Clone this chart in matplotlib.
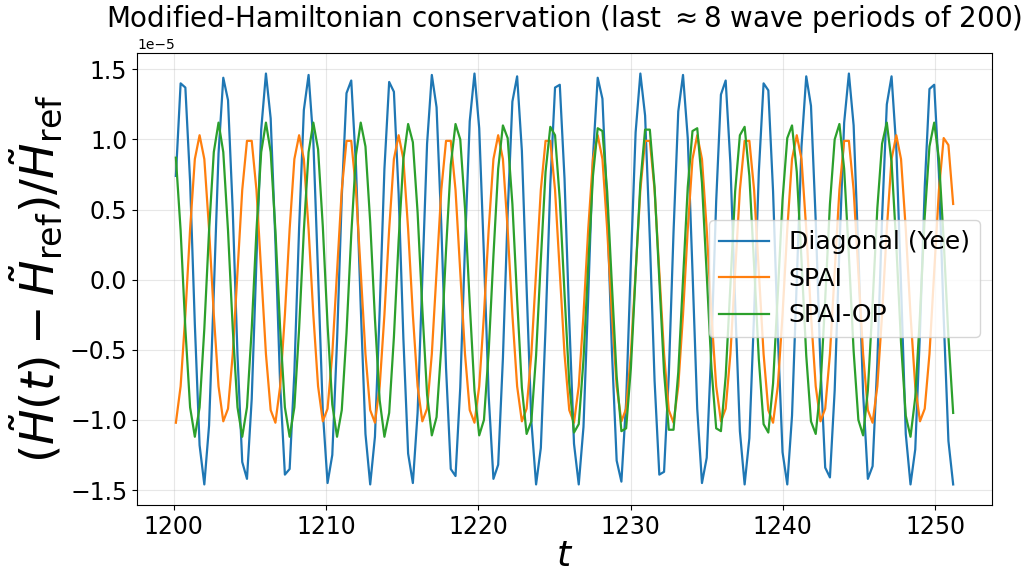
import numpy as np
import matplotlib
matplotlib.use("Agg")
import matplotlib.pyplot as plt

# sampled window at the end of the run
t_start, t_end, n_samples = 1200.14, 1251.19, 165

# relative modified-Hamiltonian drift, units of 1e-5
diag_yee = [
    0.74, 1.40, 1.37, 0.70, -0.32, -1.18, -1.46, -1.04, -0.09, 0.90,
    1.44, 1.28, 0.49, -0.54, -1.30, -1.42, -0.85, 0.14, 1.07, 1.47,
    1.15, 0.27, -0.75, -1.39, -1.35, -0.66, 0.37, 1.21, 1.46, 0.99,
    0.04, -0.94, -1.45, -1.25, -0.44, 0.59, 1.33, 1.42, 0.81, -0.19,
    -1.10, -1.46, -1.12, -0.22, 0.79, 1.41, 1.34, 0.61, -0.42, -1.24,
    -1.45, -0.95, 0.01, 0.97, 1.46, 1.23, 0.39, -0.63, -1.35, -1.40,
    -0.77, 0.24, 1.13, 1.47, 1.08, 0.17, -0.83, -1.42, -1.32, -0.56,
    0.47, 1.27, 1.45, 0.92, -0.06, -1.01, -1.46, -1.20, -0.34, 0.68,
    1.37, 1.39, 0.72, -0.29, -1.17, -1.46, -1.05, -0.12, 0.87, 1.44,
    1.29, 0.51, -0.51, -1.29, -1.44, -0.87, 0.12, 1.05, 1.47, 1.17,
    0.29, -0.72, -1.39, -1.37, -0.68, 0.34, 1.20, 1.46, 1.01, 0.06,
    -0.92, -1.45, -1.27, -0.47, 0.56, 1.32, 1.42, 0.83, -0.17, -1.08,
    -1.46, -1.13, -0.24, 0.77, 1.40, 1.35, 0.63, -0.39, -1.23, -1.46,
    -0.97, -0.01, 0.95, 1.45, 1.24, 0.42, -0.61, -1.34, -1.41, -0.79,
    0.22, 1.12, 1.47, 1.10, 0.19, -0.81, -1.42, -1.33, -0.59, 0.44,
    1.25, 1.45, 0.94, -0.04, -1.10, -1.46, -1.21, -0.37, 0.66, 1.36,
    1.39, 0.75, -0.27, -1.15, -1.46,
]

spai = [
    -1.02, -0.76, -0.25, 0.36, 0.86, 1.03, 0.86, 0.36, -0.25, -0.76,
    -1.01, -0.92, -0.53, 0.06, 0.64, 0.99, 0.99, 0.64, 0.06, -0.53, -0.93,
    -1.02, -0.76, -0.25, 0.36, 0.86, 1.03, 0.86, 0.36, -0.25, -0.76,
    -1.01, -0.92, -0.53, 0.06, 0.64, 0.99, 0.99, 0.64, 0.06, -0.53, -0.93,
    -1.02, -0.76, -0.25, 0.36, 0.86, 1.03, 0.86, 0.36, -0.25, -0.76,
    -1.01, -0.92, -0.53, 0.06, 0.64, 0.99, 0.99, 0.64, 0.06, -0.53, -0.93,
    -1.02, -0.76, -0.25, 0.36, 0.86, 1.03, 0.86, 0.36, -0.25, -0.76,
    -1.01, -0.92, -0.53, 0.06, 0.64, 0.99, 0.99, 0.64, 0.06, -0.53, -0.93,
    -1.02, -0.76, -0.25, 0.36, 0.86, 1.03, 0.86, 0.36, -0.25, -0.76,
    -1.01, -0.92, -0.53, 0.06, 0.64, 0.99, 0.99, 0.64, 0.06, -0.53, -0.93,
    -1.02, -0.76, -0.25, 0.36, 0.86, 1.03, 0.86, 0.36, -0.25, -0.76,
    -1.01, -0.92, -0.53, 0.06, 0.64, 0.99, 0.99, 0.64, 0.06, -0.53, -0.93,
    -1.02, -0.76, -0.25, 0.36, 0.86, 1.03, 0.86, 0.36, -0.25, -0.76,
    -1.01, -0.92, -0.53, 0.06, 0.64, 0.99, 0.99, 0.64, 0.06, -0.53, -0.93,
    -1.02, -0.76, -0.25, 0.36, 0.86, 1.03, 0.86, 0.36, -0.25, -0.76,
    -1.01, -0.92, -0.53, 0.06, 0.64, 1.01, 0.96, 0.54,
]

spai_op = [
    0.87, 0.35, -0.35, -0.91, -1.12, -0.91, -0.35, 0.35, 0.91,
    1.12, 0.91, 0.35, -0.35, -0.91, -1.12, -0.91, -0.35, 0.35, 0.91,
    1.12, 0.91, 0.35, -0.35, -0.91, -1.12, -0.91, -0.35, 0.35, 0.91,
    1.12, 0.93, 0.38, -0.32, -0.89, -1.12, -0.93, -0.38, 0.32, 0.89,
    1.12, 0.95, 0.41, -0.28, -0.86, -1.12, -0.95, -0.41, 0.28, 0.86,
    1.11, 0.98, 0.48, -0.21, -0.82, -1.11, -0.98, -0.48, 0.21, 0.82,
    1.11, 1.00, 0.51, -0.17, -0.79, -1.11, -1.00, -0.51, 0.17, 0.79,
    1.10, 1.01, 0.54, -0.14, -0.77, -1.10, -1.01, -0.54, 0.14, 0.77,
    1.09, 1.03, 0.57, -0.10, -0.74, -1.09, -1.03, -0.57, 0.10, 0.74,
    1.08, 1.06, 0.63, -0.04, -0.69, -1.08, -1.06, -0.63, 0.04, 0.69,
    1.07, 1.07, 0.66, 0.00, -0.66, -1.07, -1.07, -0.66, 0.00, 0.66,
    1.06, 1.08, 0.69, 0.04, -0.63, -1.06, -1.08, -0.69, -0.04, 0.63,
    1.03, 1.09, 0.74, 0.10, -0.57, -1.03, -1.09, -0.74, -0.10, 0.57,
    1.01, 1.10, 0.77, 0.14, -0.54, -1.01, -1.10, -0.77, -0.14, 0.54,
    1.00, 1.11, 0.79, 0.17, -0.51, -1.00, -1.11, -0.79, -0.17, 0.51,
    0.97, 1.12, 0.84, 0.25, -0.45, -0.97, -1.12, -0.84, -0.25, 0.45,
    0.95, 1.12, 0.86, 0.28, -0.41, -0.95,
]

labels = ["Diagonal (Yee)", "SPAI", "SPAI-OP"]

t = np.linspace(t_start, t_end, n_samples)
series = [np.array(s) * 1e-5 for s in (diag_yee, spai, spai_op)]

fig = plt.figure(figsize=(10.31, 5.76), dpi=100)
ax = fig.add_axes([0.1329, 0.1233, 0.8293, 0.7847])

for y, lab in zip(series, labels):
    ax.plot(t, y, lw=1.6, label=lab)

ax.set_title(r"Modified-Hamiltonian conservation (last $\approx$8 wave periods of 200)",
             fontsize=20, pad=8)
ax.set_xlabel(r"$t$", fontsize=26, labelpad=0)
ax.set_ylabel(r"$(\tilde{H}(t)-\tilde{H}_{\mathrm{ref}})/\tilde{H}_{\mathrm{ref}}$", fontsize=34)
ax.tick_params(labelsize=17)
ax.grid(True, alpha=0.3)
ax.legend(loc="center right", fontsize=18)

fig.savefig("out.png", dpi=100)
